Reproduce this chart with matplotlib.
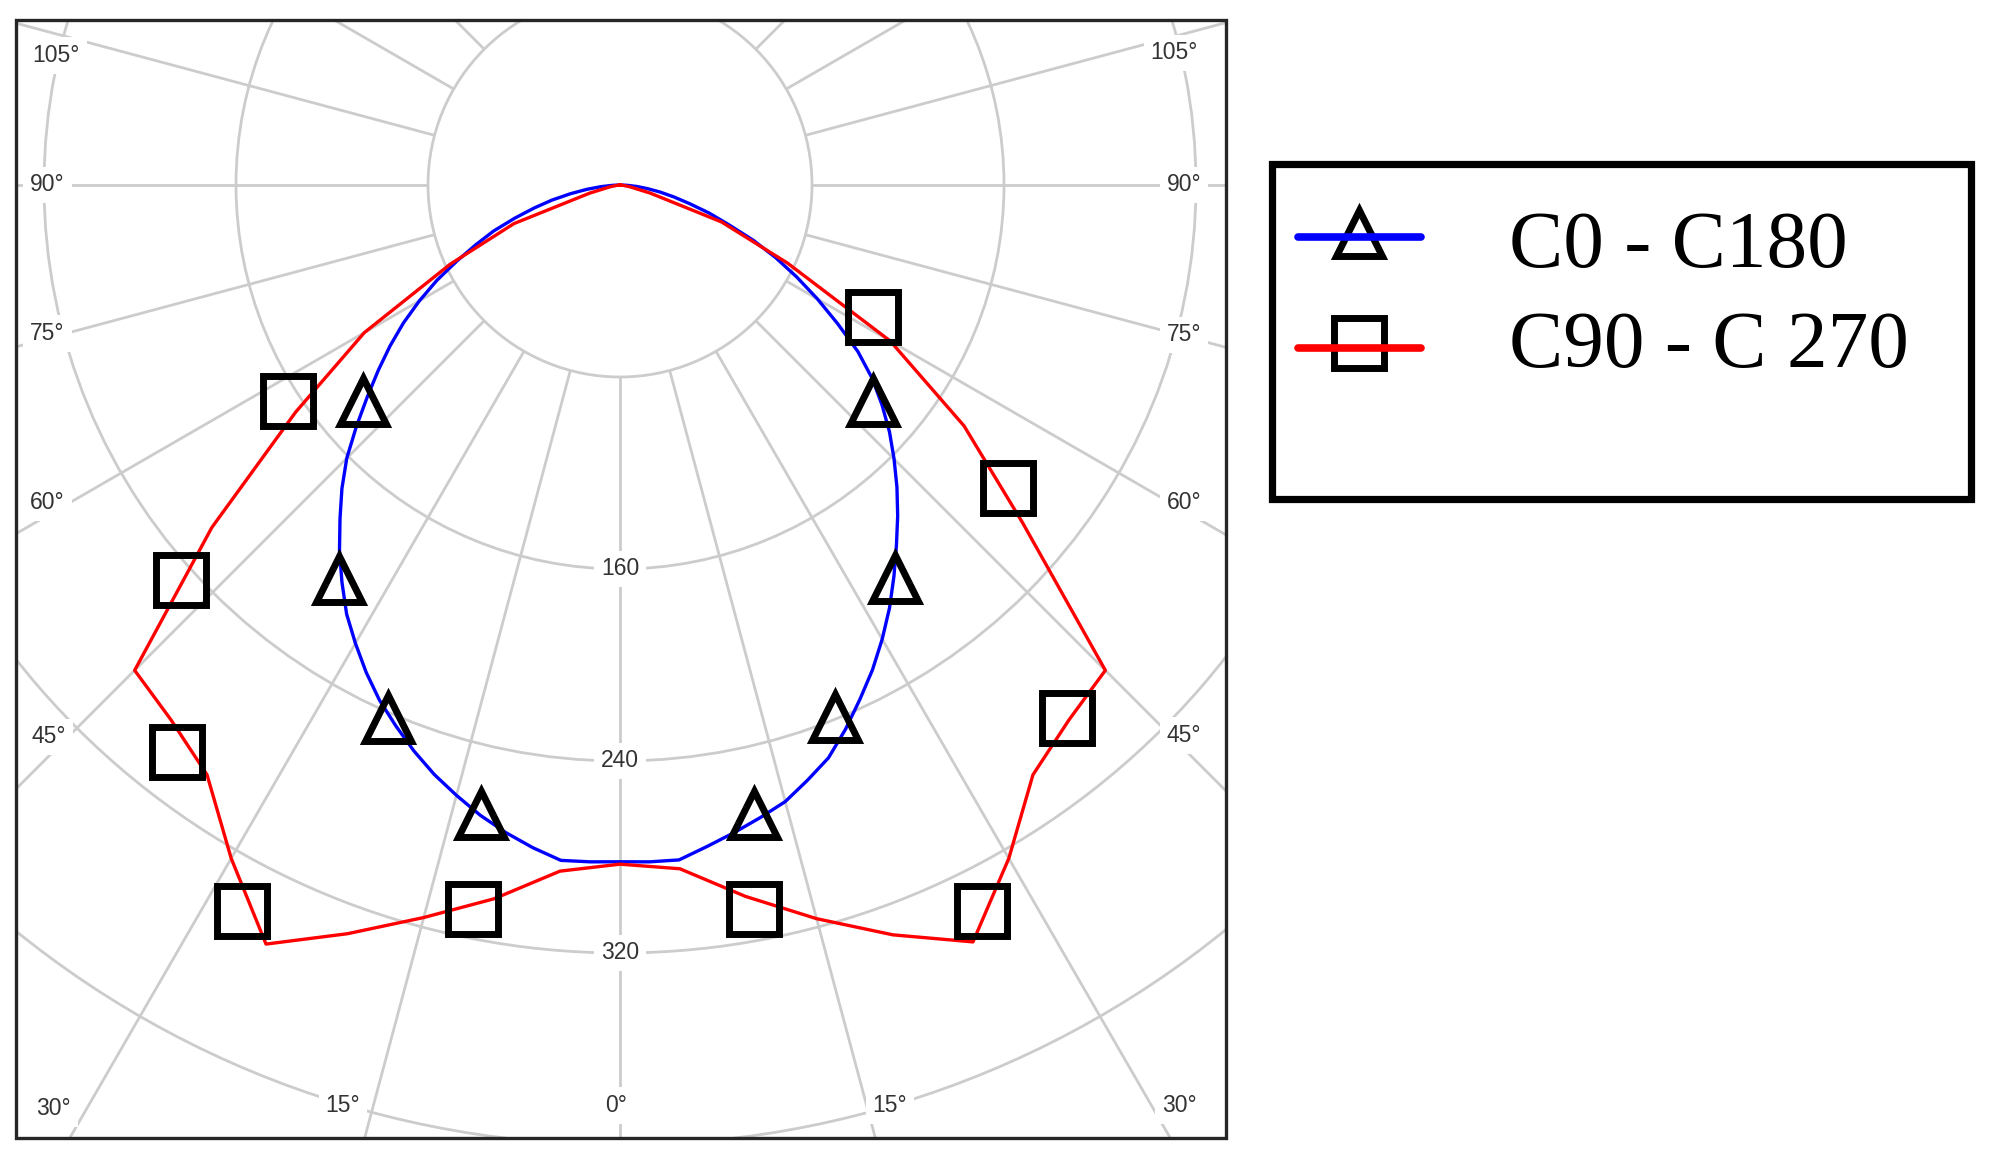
import numpy as np
import matplotlib.pyplot as plt
from matplotlib.patches import Circle, Rectangle

# vertical angle from nadir (deg) and luminous intensity (cd)
GAMMA_C0 = [0, 2.5, 5, 7.5, 10, 12.5, 15, 17.5, 20, 22.5, 25, 27.5, 30, 32.5, 35, 37.5,
            40, 42.5, 45, 47.5, 50, 52.5, 55, 57.5, 60, 62.5, 65, 67.5, 70, 72.5, 75,
            77.5, 80, 82.5, 85, 87.5, 90]
C0 = [282, 282.3, 282.3, 278, 274, 270, 266, 260, 254, 245.5, 236.5, 227.8, 218.5, 209,
      199, 189.2, 180, 170.8, 161.5, 152.3, 142.5, 132.5, 121, 107.5, 95, 83, 71.5, 60,
      48, 39, 30, 23, 17, 11.5, 7, 3, 0]
C180 = [282, 282.3, 282.5, 278.5, 274, 269, 263.3, 257.5, 251, 244, 237, 229, 220.5, 212,
        202, 192, 181.5, 171.5, 161, 149, 137.5, 127, 117, 107, 96.5, 86, 75, 65,
        56, 46, 37, 29, 21, 14, 8, 3, 0]

GAMMA_C90 = [0, 5, 10, 15, 20, 25, 30, 35, 40, 45, 50, 55, 60, 65, 70, 75, 80, 85, 90]
C90 = [283, 286, 301, 316.5, 332.5, 348, 324, 300, 291, 286, 219, 175, 130, 77, 45, 13, 4, 1, 0]
C270 = [283, 287, 302, 316, 332, 349, 324, 300, 291, 286, 222, 165, 123, 78, 47, 13, 4, 1, 0]

# symbol positions (signed angle, cd)
TRI_GAMMA = [-50, 49.5, -35.5, 35, -23.5, 22, -12.5, 12]
TRI_CD = [140, 138.5, 201.5, 200, 242, 239, 268.5, 268]
SQ_GAMMA = [-57, 62.5, 52, -48, -38, 40, -27.5, -11.5, 10.5, 26.5]
SQ_CD = [165, 119, 205, 246, 300, 290, 341, 308, 307, 338]

RINGS = [80, 160, 240, 320, 400, 480]
RING_LABELS = [160, 240, 320]
SPOKES = np.arange(-180, 181, 15)

# angle labels around the frame (text, x, y in cd units)
EDGE_LABELS = [
    ("105°", -235, 54), ("90°", -238.5, 0), ("75°", -238.5, -62),
    ("60°", -238.5, -132.5), ("45°", -238, -230),
    ("30°", -236, -385), ("15°", -115.5, -383.5), ("0°", -1.5, -383.5),
    ("15°", 112.5, -383.5), ("30°", 233, -383.5),
    ("45°", 235, -229.5), ("60°", 235, -132.5), ("75°", 235, -62.5),
    ("90°", 235, 0), ("105°", 231, 55),
]

GRID = "#cccccc"
BLUE = "#0000ff"
RED = "#ff0000"


def to_xy(gamma, cd):
    g = np.radians(np.asarray(gamma, float))
    cd = np.asarray(cd, float)
    return cd * np.sin(g), -cd * np.cos(g)


def full_curve(gamma, right, left):
    g = [-a for a in gamma[::-1]] + gamma[1:]
    v = left[::-1] + right[1:]
    return to_xy(g, v)


fig = plt.figure(figsize=(19.97, 11.64), dpi=100)
ax = fig.add_axes([16 / 1997, 26 / 1164, 1210 / 1997, 1118 / 1164])
ax.set_xlim(-251.67, 252.5)
ax.set_ylim(-397.1, 68.75)
ax.set_xticks([])
ax.set_yticks([])
for s in ax.spines.values():
    s.set_visible(False)
ax.add_patch(Rectangle((0, 0), 1, 1, transform=ax.transAxes, fill=False,
                       ec="#262626", lw=2.4, zorder=6, clip_on=False))

# grid
for r in RINGS:
    ax.add_patch(Circle((0, 0), r, fill=False, ec=GRID, lw=2, zorder=1))
for a in SPOKES:
    x, y = to_xy([a, a], [80, 1500])
    ax.plot(x, y, color=GRID, lw=2, zorder=1, solid_capstyle="butt")

lab_kw = dict(ha="center", va="center", fontsize=16.5, color="#333333",
              family=["Liberation Sans", "DejaVu Sans"], zorder=2,
              bbox=dict(boxstyle="square,pad=0.3", fc="white", ec="none"))
for v in RING_LABELS:
    ax.text(0, -v, str(v), **lab_kw)
for t, x, y in EDGE_LABELS:
    ax.text(x, y, t, **lab_kw)

# curves
x, y = full_curve(GAMMA_C0, C0, C180)
ax.plot(x, y, color=BLUE, lw=2.4, zorder=3)
x, y = full_curve(GAMMA_C90, C90, C270)
ax.plot(x, y, color=RED, lw=2.4, zorder=3)

# symbols
mk = dict(ls="none", mfc="none", mec="black", mew=5, zorder=4)
x, y = to_xy(TRI_GAMMA, TRI_CD)
ax.plot(x, y, marker="^", ms=33, **mk)
x, y = to_xy(SQ_GAMMA, SQ_CD)
ax.plot(x, y, marker="s", ms=36, **mk)

# legend box
lax = fig.add_axes([0.63696, 0.57088, 0.35027, 0.28823])
lax.set_xlim(0, 1)
lax.set_ylim(0, 1)
lax.set_xticks([])
lax.set_yticks([])
for s in lax.spines.values():
    s.set_visible(False)
lax.add_patch(Rectangle((0, 0), 1, 1, transform=lax.transAxes, fill=False,
                        ec="black", lw=5.2, joinstyle="miter", clip_on=False))

lax.plot([0.1241], [0.7934], marker="^", ms=33, **mk)
lax.plot([0.0366, 0.2126], [0.7815, 0.7815], color=BLUE, lw=5.5, solid_capstyle="round", zorder=5)
lax.plot([0.1241], [0.4671], marker="s", ms=36, **mk)
lax.plot([0.0366, 0.2126], [0.4507, 0.4507], color=RED, lw=5.5, solid_capstyle="round", zorder=5)

leg_font = dict(fontsize=58.5, family=["Liberation Serif", "DejaVu Serif"], color="black",
                ha="left", va="baseline")
lax.text(0.3388, 0.6921, "C0 - C180", **leg_font)
lax.text(0.3388, 0.3958, "C90 - C 270", **leg_font)

fig.savefig("out.png", dpi=100, facecolor="white")
